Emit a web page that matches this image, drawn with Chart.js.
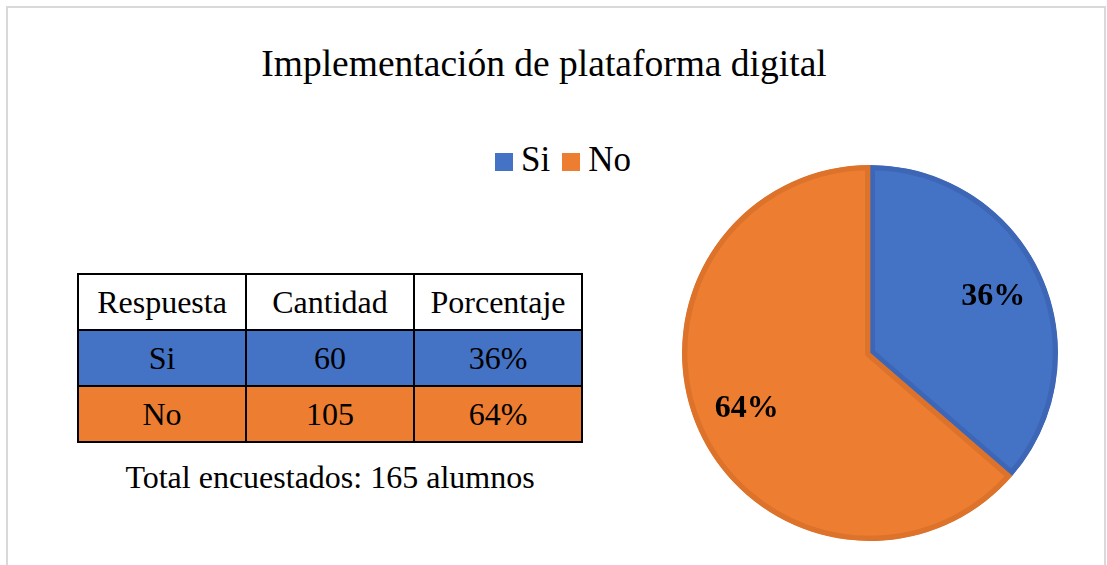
<!DOCTYPE html>
<html>
<head>
<meta charset="utf-8">
<script src="https://cdn.jsdelivr.net/npm/chart.js@4/dist/chart.umd.min.js"></script>
<style>
  body { margin: 0; width: 1107px; height: 565px; background: #fff; overflow: hidden; position: relative;
         font-family: "Liberation Serif", "Times New Roman", serif; color: #000; }
  #frame { position: absolute; left: 6px; top: 6px; width: 1096px; height: 600px; border: 2px solid #d9d9d9; }
  #title { position: absolute; left: 0; width: 1088px; top: 43px; text-align: center; font-size: 37.5px; line-height: 42px; }
  #legend { position: absolute; left: 495px; top: 142px; font-size: 35px; line-height: 35px; white-space: nowrap; }
  #legend span.box { display: inline-block; width: 18px; height: 18px; margin-right: 8px; vertical-align: 0px; }
  #legend span.item { margin-right: 12px; }
  #tabla { position: absolute; left: 77px; top: 273px; border-collapse: collapse; font-size: 32px; }
  #tabla td { border: 2px solid #000; width: 166px; height: 54px; text-align: center; padding: 0; }
  #total { position: absolute; left: 78px; width: 504px; top: 459px; text-align: center; font-size: 32px; line-height: 36px; }
  #pieBox { position: absolute; left: 680px; top: 163px; width: 380px; height: 380px; }
</style>
</head>
<body>
<div id="frame"></div>
<div id="title">Implementación de plataforma digital</div>
<div id="legend"></div>
<table id="tabla"></table>
<div id="total"></div>
<div id="pieBox"><canvas id="chartPie"></canvas></div>
<script>
var categorias = ['Si', 'No'];
var cantidades = [60, 105];
var porcentajes = ['36%', '64%'];
var encabezados = ['Respuesta', 'Cantidad', 'Porcentaje'];
var totalAlumnos = 165;

var colores = ['#4472C4', '#ED7D31'];
var bordes = ['#3D67B6', '#DD722B'];

// leyenda
var leg = document.getElementById('legend');
categorias.forEach(function (c, i) {
    leg.innerHTML += '<span class="item"><span class="box" style="background:' + colores[i] + '"></span>' + c + '</span>';
});

// tabla
var tabla = document.getElementById('tabla');
var html = '<tr>';
encabezados.forEach(function (h) { html += '<td>' + h + '</td>'; });
html += '</tr>';
categorias.forEach(function (c, i) {
    html += '<tr style="background:' + colores[i] + '"><td>' + c + '</td><td>' + cantidades[i] + '</td><td>' + porcentajes[i] + '</td></tr>';
});
tabla.innerHTML = html;
document.getElementById('total').textContent = 'Total encuestados: ' + totalAlumnos + ' alumnos';

// etiquetas dentro del pastel
var etiquetas = {
    id: 'etiquetas',
    afterDatasetsDraw: function (chart) {
        var ctx = chart.ctx;
        var meta = chart.getDatasetMeta(0);
        ctx.save();
        ctx.font = 'bold 32px "Liberation Serif", serif';
        ctx.fillStyle = '#000';
        ctx.textAlign = 'center';
        ctx.textBaseline = 'middle';
        meta.data.forEach(function (arc, i) {
            var mid = (arc.startAngle + arc.endAngle) / 2;
            var r = arc.outerRadius * 0.72;
            ctx.fillText(porcentajes[i], arc.x + Math.cos(mid) * r, arc.y + Math.sin(mid) * r);
        });
        ctx.restore();
    }
};

var ctx = document.getElementById('chartPie');
new Chart(ctx, {
    type: 'pie',
    data: {
        labels: categorias,
        datasets: [{
            data: cantidades,
            backgroundColor: colores,
            borderColor: bordes,
            borderWidth: 5,
            borderAlign: 'inner'
        }]
    },
    options: {
        responsive: true,
        maintainAspectRatio: false,
        animation: false,
        layout: { padding: 2 },
        plugins: {
            legend: { display: false },
            tooltip: { enabled: false }
        }
    },
    plugins: [etiquetas]
});
</script>
</body>
</html>
